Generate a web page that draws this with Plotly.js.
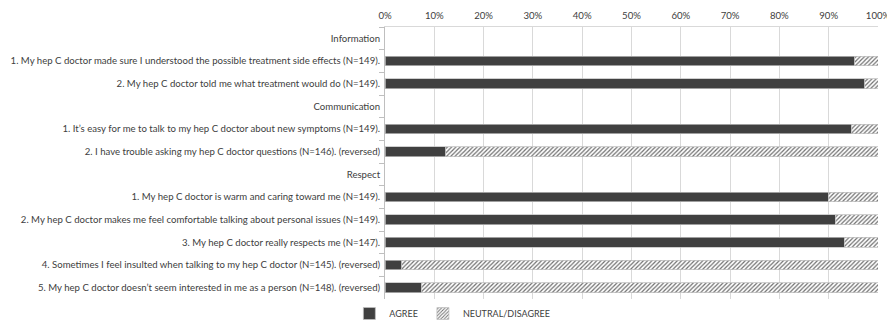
<!DOCTYPE html>
<html>
<head>
<meta charset="utf-8">
<script src="https://cdn.plot.ly/plotly-3.0.1.min.js"></script>
<style>
  html, body { margin: 0; padding: 0; background: #ffffff; }
  #chart { width: 887px; height: 328px; }
</style>
</head>
<body>
<div id="chart"></div>
<script>
// Survey items, top to bottom; section headings carry no bar
const items = [
  "Information",
  "1. My hep C doctor made sure I understood the possible treatment side effects (N=149).",
  "2. My hep C doctor told me what treatment would do (N=149).",
  "Communication",
  "1. It\u2019s easy for me to talk to my hep C doctor about new symptoms (N=149).",
  "2. I have trouble asking my hep C doctor questions (N=146). (reversed)",
  "Respect",
  "1. My hep C doctor is warm and caring toward me (N=149).",
  "2. My hep C doctor makes me feel comfortable talking about personal issues (N=149).",
  "3. My hep C doctor really respects me (N=147).",
  "4. Sometimes I feel insulted when talking to my hep C doctor (N=145). (reversed)",
  "5. My hep C doctor doesn\u2019t seem interested in me as a person (N=148). (reversed)"
];

// Percent of respondents who agree
const agree = [null, 95.3, 97.3, null, 94.6, 12.3, null, 89.9, 91.3, 93.2, 3.4, 7.4];

// Percent neutral or disagreeing
const neutralDisagree = [null, 4.7, 2.7, null, 5.4, 87.7, null, 10.1, 8.7, 6.8, 96.6, 92.6];

const seriesNames = ["AGREE", "NEUTRAL/DISAGREE"];

const textColor = "#404040";
const fontFamily = "Lato, 'Open Sans', sans-serif";

const traces = [
  {
    type: "bar",
    orientation: "h",
    name: seriesNames[0],
    y: items,
    x: agree,
    marker: {
      color: "#404040",
      line: { color: "#bfbfbf", width: 0.75 }
    },
    hoverinfo: "skip"
  },
  {
    type: "bar",
    orientation: "h",
    name: seriesNames[1],
    y: items,
    x: neutralDisagree,
    marker: {
      color: "#ffffff",
      line: { color: "#bfbfbf", width: 0.75 },
      pattern: {
        shape: "/",
        fgcolor: "#707070",
        bgcolor: "#ffffff",
        size: 3,
        solidity: 0.4
      }
    },
    hoverinfo: "skip"
  }
];

const layout = {
  width: 887,
  height: 328,
  margin: { l: 385, r: 9, t: 27, b: 28, pad: 0 },
  paper_bgcolor: "#ffffff",
  plot_bgcolor: "#ffffff",
  barmode: "stack",
  bargap: 0.57,
  font: { family: fontFamily, size: 9.6, color: textColor },
  showlegend: true,
  legend: {
    orientation: "h",
    xref: "container",
    yref: "container",
    x: 0.51,
    xanchor: "center",
    y: 0.0,
    yanchor: "bottom",
    font: { family: fontFamily, size: 9, color: textColor },
    itemwidth: 30,
    traceorder: "normal",
    bgcolor: "rgba(0,0,0,0)"
  },
  xaxis: {
    side: "top",
    range: [0, 100],
    dtick: 10,
    tick0: 0,
    ticksuffix: "%",
    showgrid: true,
    gridcolor: "#d9d9d9",
    gridwidth: 1,
    zeroline: false,
    showline: true,
    linecolor: "#d9d9d9",
    linewidth: 1,
    mirror: false,
    ticks: "",
    ticklabelstandoff: 3,
    ticklabeloverflow: "allow",
    tickfont: { family: fontFamily, size: 9.6, color: textColor },
    fixedrange: true
  },
  yaxis: {
    type: "category",
    autorange: "reversed",
    showgrid: false,
    zeroline: false,
    showline: true,
    linecolor: "#bfbfbf",
    linewidth: 1,
    ticks: "outside",
    tickson: "boundaries",
    ticklen: 5,
    tickcolor: "#bfbfbf",
    ticklabelstandoff: 2,
    ticklabeloverflow: "allow",
    tickfont: { family: fontFamily, size: 9.6, color: textColor },
    fixedrange: true
  }
};

Plotly.newPlot("chart", traces, layout, { displayModeBar: false, staticPlot: true });
</script>
</body>
</html>
